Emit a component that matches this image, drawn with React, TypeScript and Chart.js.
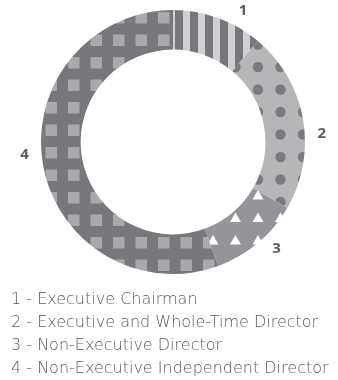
import React, { useEffect, useRef } from "react";
import { Chart, registerables } from "chart.js";

Chart.register(...registerables);

const categories = [
  "Executive Chairman",
  "Executive and Whole-Time Director",
  "Non-Executive Director",
  "Non-Executive Independent Director",
];
const segmentNumbers = ["1", "2", "3", "4"];
const directorCounts = [1, 2, 1, 5];

const DARK = "#77787b";
const TEXT = "#5a5b5e";

function tile(size: number, bg: string, draw: (c: CanvasRenderingContext2D) => void) {
  const cv = document.createElement("canvas");
  cv.width = size;
  cv.height = size;
  const c = cv.getContext("2d")!;
  c.fillStyle = bg;
  c.fillRect(0, 0, size, size);
  draw(c);
  return cv;
}

function grid(size: number, step: number, ox: number, oy: number, fn: (x: number, y: number) => void) {
  for (let i = -2; i <= Math.ceil(size / step) + 1; i++) {
    for (let j = -2; j <= Math.ceil(size / step) + 1; j++) {
      fn(ox + i * step, oy + j * step);
    }
  }
}

function makePatterns(ctx: CanvasRenderingContext2D) {
  const stripes = tile(15, DARK, (c) => {
    c.fillStyle = "#cfd0d2";
    c.fillRect(3, 0, 7, 15);
  });
  const dots = tile(45, "#b5b6b8", (c) => {
    c.fillStyle = "#7a7b7e";
    grid(45, 22.5, 10.5, 22, (x, y) => {
      c.beginPath();
      c.arc(x, y, 5.2, 0, Math.PI * 2);
      c.fill();
    });
  });
  const tris = tile(45, "#949598", (c) => {
    c.fillStyle = "#ffffff";
    grid(45, 22.5, 10.5, 15, (x, y) => {
      c.beginPath();
      c.moveTo(x, y - 5);
      c.lineTo(x + 5.5, y + 4.5);
      c.lineTo(x - 5.5, y + 4.5);
      c.closePath();
      c.fill();
    });
  });
  const squares = tile(45, DARK, (c) => {
    c.fillStyle = "#a8a9ac";
    grid(45, 22.5, 0.5, 12, (x, y) => {
      c.fillRect(x, y, 11.5, 11.5);
    });
  });
  return [stripes, dots, tris, squares].map((t) => ctx.createPattern(t, "repeat")!);
}

const numberLabels = {
  id: "numberLabels",
  afterDatasetsDraw(chart: any, _args: any, opts: any) {
    const { ctx } = chart;
    const meta = chart.getDatasetMeta(0);
    ctx.save();
    ctx.font = "bold 15px 'Open Sans', sans-serif";
    ctx.fillStyle = TEXT;
    ctx.textAlign = "center";
    ctx.textBaseline = "middle";
    meta.data.forEach((arc: any, i: number) => {
      const mid = (arc.startAngle + arc.endAngle) / 2 + (opts.angleShift[i] * Math.PI) / 180;
      const r = arc.outerRadius + opts.gap;
      ctx.fillText(segmentNumbers[i], arc.x + Math.cos(mid) * r, arc.y + Math.sin(mid) * r);
    });
    ctx.restore();
  },
};

export default function App() {
  const ref = useRef<HTMLCanvasElement>(null);
  useEffect(() => {
    const canvas = ref.current!;
    const ctx = canvas.getContext("2d")!;
    const patterns = makePatterns(ctx);
    const chart = new Chart(canvas, {
      type: "doughnut",
      data: {
        labels: categories,
        datasets: [
          {
            data: directorCounts,
            backgroundColor: patterns as any,
            borderWidth: 0,
          },
        ],
      },
      options: {
        responsive: false,
        animation: false,
        events: [],
        cutout: "70%",
        layout: { padding: { top: 10, bottom: 16, left: 41, right: 33 } },
        plugins: {
          legend: { display: false },
          tooltip: { enabled: false },
          numberLabels: { gap: 17, angleShift: [8, 7, -4, 5] },
        } as any,
      },
      plugins: [numberLabels],
    });
    return () => chart.destroy();
  }, []);

  return (
    <div style={{ position: "fixed", left: 0, top: 0, width: 338, height: 380, background: "#fff", overflow: "hidden" }}>
      <canvas ref={ref} width={338} height={290} style={{ display: "block" }} />
      <div
        style={{
          position: "absolute",
          left: 11,
          top: 287,
          fontFamily: "'DejaVu Sans', sans-serif",
          fontWeight: 200,
          fontSize: 16,
          color: TEXT,
          whiteSpace: "nowrap",
        }}
      >
        {categories.map((c, i) => (
          <div key={c} style={{ height: 23, lineHeight: "23px" }}>
            {segmentNumbers[i]} - {c}
          </div>
        ))}
      </div>
    </div>
  );
}
